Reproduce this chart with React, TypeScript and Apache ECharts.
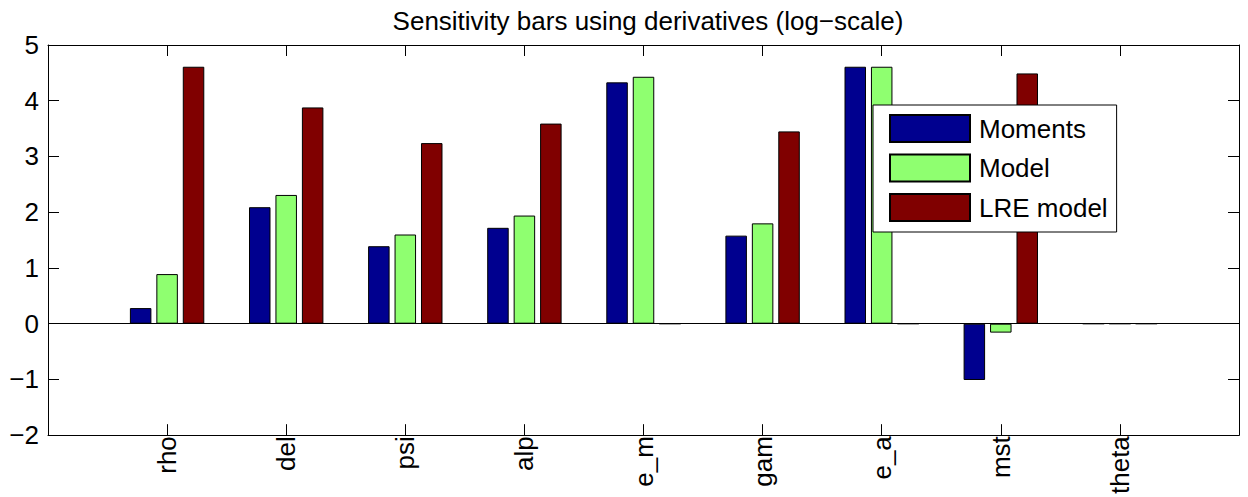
import React, { useEffect, useRef } from "react";
import * as echarts from "echarts";

const categories = ["rho", "del", "psi", "alp", "e_m", "gam", "e_a", "mst", "theta"];
const moments = [0.28, 2.09, 1.39, 1.72, 4.33, 1.58, 4.61, -1.01, 0];
const model = [0.89, 2.31, 1.6, 1.94, 4.43, 1.8, 4.61, -0.16, 0];
const lreModel = [4.61, 3.88, 3.24, 3.59, 0, 3.45, 0, 4.49, 0];

const FONT = "'Liberation Sans', Arial, Helvetica, sans-serif";

// pad with an empty slot on both ends so that the x range runs 0..10
const axisData = ["", ...categories, ""];
const pad = (arr: number[]) => [null, ...arr, null];

const App: React.FC = () => {
  const chartRef = useRef<HTMLDivElement>(null);

  useEffect(() => {
    if (!chartRef.current) return;
    const chart = echarts.init(chartRef.current, null, { renderer: "svg" });

    const barSeries = (name: string, data: number[], color: string) => ({
      name,
      type: "bar",
      data: pad(data),
      barWidth: 21.5,
      barGap: "23%",
      itemStyle: { color, borderColor: "#000", borderWidth: 1 },
    });

    const frameAxis = {
      axisLine: { show: true, onZero: false, lineStyle: { color: "#000", width: 1 } },
      axisTick: { show: true, inside: true, length: 11, lineStyle: { color: "#000" } },
      splitLine: { show: false },
    };

    const option = {
      animation: false,
      backgroundColor: "#fff",
      title: {
        text: "Sensitivity bars using derivatives (log\u2212scale)",
        left: 643,
        textAlign: "center",
        top: 3,
        textStyle: { fontFamily: FONT, fontSize: 26, fontWeight: "normal", color: "#000" },
      },
      grid: { left: 48, right: 9, top: 45, bottom: 60 },
      legend: {
        orient: "vertical",
        left: 873,
        top: 105,
        padding: [9, 9, 10, 16],
        itemWidth: 80,
        itemHeight: 27,
        itemGap: 10.5,
        icon: "rect",
        borderColor: "#000",
        borderWidth: 1,
        backgroundColor: "#fff",
        textStyle: { fontFamily: FONT, fontSize: 26, color: "#000", padding: [0, 0, 0, 4] },
      },
      xAxis: [
        {
          type: "category",
          data: axisData,
          boundaryGap: false,
          position: "bottom",
          ...frameAxis,
          axisLabel: {
            rotate: 90,
            margin: 1,
            interval: 0,
            fontFamily: FONT,
            fontSize: 26,
            color: "#000",
          },
        },
        {
          type: "category",
          data: axisData,
          boundaryGap: false,
          position: "top",
          ...frameAxis,
          axisLabel: { show: false },
        },
      ],
      yAxis: [
        {
          type: "value",
          min: -2,
          max: 5,
          interval: 1,
          position: "left",
          ...frameAxis,
          axisLabel: {
            margin: 9,
            fontFamily: FONT,
            fontSize: 26,
            color: "#000",
            formatter: (v: number) => String(v).replace("-", "\u2212"),
          },
        },
        {
          type: "value",
          min: -2,
          max: 5,
          interval: 1,
          position: "right",
          ...frameAxis,
          axisLabel: { show: false },
        },
      ],
      series: [
        {
          ...barSeries("Moments", moments, "#00008F"),
          markLine: {
            silent: true,
            symbol: ["none", "none"],
            label: { show: false },
            lineStyle: { color: "#000", type: "solid", width: 1 },
            data: [{ yAxis: 0 }],
          },
        },
        barSeries("Model", model, "#8FFF70"),
        barSeries("LRE model", lreModel, "#800000"),
      ],
    };

    chart.setOption(option);
    return () => {
      chart.dispose();
    };
  }, []);

  return (
    <div
      ref={chartRef}
      style={{ position: "fixed", left: 0, top: 0, width: "1248px", height: "497px" }}
    />
  );
};

export default App;
